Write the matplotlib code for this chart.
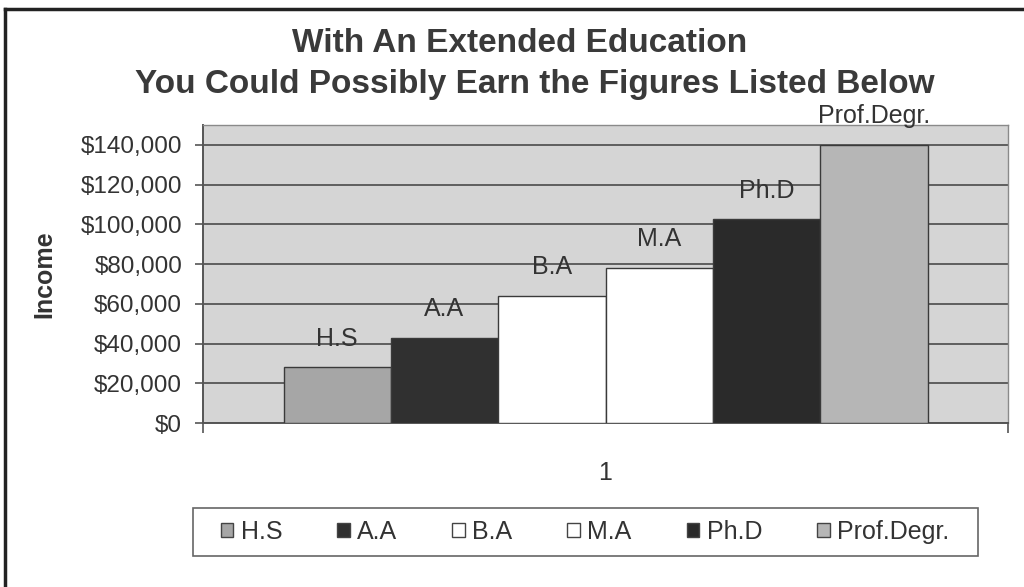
import matplotlib
matplotlib.use("Agg")
import matplotlib.pyplot as plt
from matplotlib.patches import Patch, Rectangle
from matplotlib.ticker import FuncFormatter

# degree levels and approximate incomes
degrees = ["H.S", "A.A", "B.A", "M.A", "Ph.D", "Prof.Degr."]
incomes = [28000, 43000, 64000, 78000, 102500, 140000]
bar_colors = ["#a6a6a6", "#303030", "#ffffff", "#ffffff", "#2a2a2a", "#b6b6b6"]
category = "1"

plt.rcParams["font.family"] = ["Liberation Sans", "DejaVu Sans"]

fig = plt.figure(figsize=(10.24, 5.87), dpi=100)
fig.patch.set_facecolor("white")

# plot area placed to match the original Excel layout
ax = fig.add_axes([203 / 1024, 1 - 423 / 587, 805 / 1024, 298 / 587])
ax.set_facecolor("#d5d5d5")

n = len(degrees)
width = 0.8 / n
xs = [1 + (i - (n - 1) / 2) * width for i in range(n)]

ax.set_ylim(0, 150000)
ax.set_xlim(0.5, 1.5)
ax.set_yticks(range(0, 160000, 20000))
ax.yaxis.grid(True, color="#4a4a4a", linewidth=1.2)
ax.set_axisbelow(True)

bars = ax.bar(xs, incomes, width=width, color=bar_colors,
              edgecolor="#3a3a3a", linewidth=1.0, zorder=3)

for x, v, name in zip(xs, incomes, degrees):
    ax.annotate(name, (x, v), xytext=(0, 12), textcoords="offset points",
                ha="center", va="bottom", fontsize=18, color="#333333",
                zorder=4, annotation_clip=False)

ax.yaxis.set_major_formatter(FuncFormatter(lambda v, p: f"${v:,.0f}"))
ax.tick_params(axis="y", labelsize=17.5, labelcolor="#333333", color="#555555",
               length=6, width=1.2, direction="out", pad=9)

# category axis: boundary tick marks, label in the middle
ax.set_xticks([0.5, 1.5])
ax.set_xticklabels(["", ""])
ax.set_xticks([1.0], minor=True)
ax.set_xticklabels([category], minor=True)
ax.tick_params(axis="x", which="major", length=7, width=1.2, color="#555555",
               direction="out")
ax.tick_params(axis="x", which="minor", length=0, labelsize=18,
               labelcolor="#333333", pad=27)

for side in ["top", "right"]:
    ax.spines[side].set_color("#8a8a8a")
    ax.spines[side].set_linewidth(1.0)
for side in ["left", "bottom"]:
    ax.spines[side].set_color("#555555")
    ax.spines[side].set_linewidth(1.4)

ax.set_ylabel("Income", fontsize=18, fontweight="bold", color="#333333")
ax.yaxis.set_label_coords((56 - 203) / 805, 0.5)

fig.text(520 / 1024, 1 - 43 / 587, "With An Extended Education",
         ha="center", va="center", fontsize=24, fontweight="bold", color="#3a3a3a")
fig.text(535 / 1024, 1 - 85 / 587,
         "You Could Possibly Earn the Figures Listed Below",
         ha="center", va="center", fontsize=24, fontweight="bold", color="#3a3a3a")

# legend box drawn separately, entries centred inside it
fig.add_artist(Rectangle((193 / 1024, 1 - 556 / 587), 785 / 1024, 48 / 587,
                         transform=fig.transFigure, facecolor="white",
                         edgecolor="#666666", linewidth=1.2))
handles = [Patch(facecolor=c, edgecolor="#444444", linewidth=1.0)
           for c in bar_colors]
leg = fig.legend(handles, degrees, ncol=n, loc="center",
                 bbox_to_anchor=(585 / 1024, 1 - 532 / 587),
                 fontsize=18, handlelength=0.5, handleheight=0.5,
                 handletextpad=0.3, columnspacing=2.2, borderaxespad=0,
                 borderpad=0, frameon=False)
for t in leg.get_texts():
    t.set_color("#333333")

# partial outer frame (top and left edges of the original chart box)
fig.add_artist(plt.Line2D([5 / 1024, 1], [1 - 9 / 587, 1 - 9 / 587],
                          color="#222222", linewidth=2.5))
fig.add_artist(plt.Line2D([5 / 1024, 5 / 1024], [0, 1 - 9 / 587],
                          color="#222222", linewidth=2.5))

fig.savefig("out.png", dpi=100)
